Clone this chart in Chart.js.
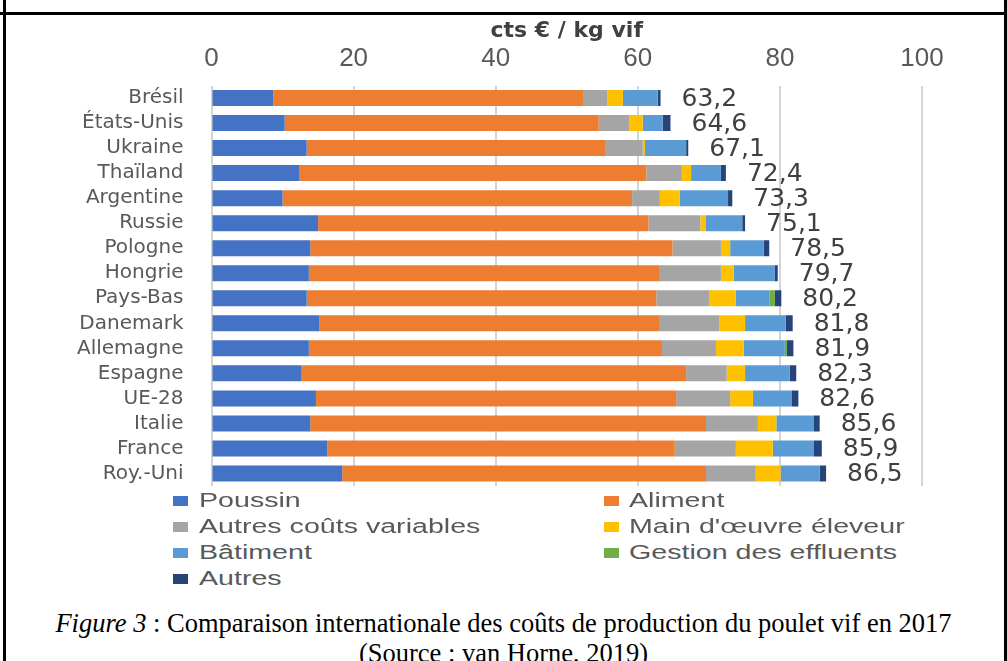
<!DOCTYPE html>
<html>
<head>
<meta charset="utf-8">
<script src="https://cdn.jsdelivr.net/npm/chart.js@4.4.1/dist/chart.umd.min.js"></script>
<style>
  body { margin: 0; background: #fff; width: 1007px; height: 661px; overflow: hidden; position: relative; }
  .line { position: absolute; background: #000; }
  /* the y labels reserve ~40px under the plot area, hence the taller box */
  #chartBox { position: absolute; left: 0; top: 14px; width: 1007px; height: 512px; }
  .sq { position: absolute; width: 15px; height: 10px; }
  .leg { position: absolute; font: 20px "Liberation Sans", Arial, sans-serif; color: #595959; white-space: nowrap;
         transform: scaleX(1.43); transform-origin: 0 50%; line-height: 24px; }
  .caption { position: absolute; left: 0; width: 1007px; text-align: center; font: 26.5px "Liberation Serif", "Times New Roman", serif; color: #000; white-space: nowrap; }
</style>
</head>
<body>
<div class="line" style="left:0;top:12px;width:1007px;height:3px"></div>
<div class="line" style="left:3px;top:0;width:3px;height:661px"></div>
<div class="line" style="left:1004px;top:0;width:3px;height:661px"></div>
<div id="chartBox"><canvas id="costChart"></canvas></div>
<div id="legend"></div>
<div class="caption" style="top:608px"><i>Figure 3</i> : Comparaison internationale des coûts de production du poulet vif en 2017</div>
<div class="caption" style="top:638px">(Source : van Horne, 2019)</div>

<script>
// cts € / kg vif
const categories = ["Brésil", "États-Unis", "Ukraine", "Thaïland", "Argentine", "Russie", "Pologne", "Hongrie",
                    "Pays-Bas", "Danemark", "Allemagne", "Espagne", "UE-28", "Italie", "France", "Roy.-Uni"];
const poussin         = [8.7, 10.3, 13.4, 12.4, 10.0, 15.0, 13.9, 13.7, 13.4, 15.2, 13.7, 12.6, 14.7, 13.9, 16.3, 18.4];
const aliment         = [43.7, 44.2, 42.1, 48.8, 49.2, 46.5, 51.0, 49.4, 49.2, 47.9, 49.7, 54.2, 50.7, 55.7, 48.9, 51.2];
const autresVariables = [3.3, 4.3, 5.2, 5.0, 3.9, 7.3, 6.8, 8.6, 7.5, 8.4, 7.6, 5.7, 7.6, 7.3, 8.6, 7.0];
const mainOeuvre      = [2.2, 1.9, 0.3, 1.3, 2.8, 0.8, 1.3, 1.8, 3.7, 3.6, 3.9, 2.6, 3.2, 2.6, 5.2, 3.5];
const batiment        = [4.9, 2.8, 5.8, 4.2, 6.8, 5.1, 4.7, 5.8, 4.7, 5.7, 5.8, 6.3, 5.5, 5.3, 5.8, 5.5];
const effluents       = [0, 0, 0, 0, 0, 0, 0, 0, 0.8, 0, 0.3, 0, 0, 0, 0, 0];
const autres          = [0.4, 1.1, 0.3, 0.7, 0.6, 0.4, 0.8, 0.4, 0.9, 1.0, 0.9, 0.9, 0.9, 0.8, 1.1, 0.9];
const totals          = [63.2, 64.6, 67.1, 72.4, 73.3, 75.1, 78.5, 79.7, 80.2, 81.8, 81.9, 82.3, 82.6, 85.6, 85.9, 86.5];
const xTicks = [0, 20, 40, 60, 80, 100];

// Total written to the right of each bar
const totalLabels = {
    id: 'totalLabels',
    afterDatasetsDraw(chart) {
        const ctx = chart.ctx;
        const xs = chart.scales.x, ys = chart.scales.y;
        ctx.save();
        ctx.font = '25px "DejaVu Sans", sans-serif';
        ctx.fillStyle = '#404040';
        ctx.textAlign = 'left';
        ctx.textBaseline = 'middle';
        totals.forEach((t, i) => {
            ctx.fillText(t.toFixed(1).replace('.', ','), xs.getPixelForValue(t) + 21, ys.getPixelForValue(i) + 1);
        });
        ctx.restore();
    }
};

const ctx = document.getElementById("costChart").getContext("2d");
const chart = new Chart(ctx, {
    type: 'bar',
    data: {
        labels: categories,
        datasets: [
            { label: 'Poussin', data: poussin, backgroundColor: '#4472C4' },
            { label: 'Aliment', data: aliment, backgroundColor: '#ED7D31' },
            { label: 'Autres coûts variables', data: autresVariables, backgroundColor: '#A5A5A5' },
            { label: "Main d'œuvre éleveur", data: mainOeuvre, backgroundColor: '#FFC000' },
            { label: 'Bâtiment', data: batiment, backgroundColor: '#5B9BD5' },
            { label: 'Gestion des effluents', data: effluents, backgroundColor: '#70AD47' },
            { label: 'Autres', data: autres, backgroundColor: '#264478' }
        ]
    },
    options: {
        indexAxis: 'y',
        responsive: true,
        maintainAspectRatio: false,
        animation: false,
        devicePixelRatio: 1,
        barPercentage: 0.8,
        categoryPercentage: 0.8,
        layout: { padding: { left: 0, right: 85, top: 0, bottom: 2.5 } },
        scales: {
            x: {
                position: 'top',
                stacked: true,
                min: 0,
                max: 100,
                afterBuildTicks: (scale) => { scale.ticks = xTicks.map(v => ({ value: v })); },
                afterFit: (scale) => { scale.height = 71.5; },
                grid: { color: '#d4d4d4', lineWidth: 2, drawTicks: false },
                border: { display: false },
                ticks: {
                    padding: 11,
                    color: '#595959',
                    font: { family: '"Liberation Sans", Arial, sans-serif', size: 26 }
                },
                title: {
                    display: true,
                    text: 'cts € / kg vif',
                    color: '#404040',
                    font: { family: '"DejaVu Sans", sans-serif', size: 22, weight: 'bold' },
                    padding: { top: 4, bottom: 0 }
                }
            },
            y: {
                stacked: true,
                afterFit: (scale) => { scale.width = 211.5; },
                grid: { display: false, drawTicks: false },
                border: { display: false },
                ticks: {
                    autoSkip: false,
                    padding: 28,
                    color: '#595959',
                    font: { family: '"DejaVu Sans", sans-serif', size: 20 }
                }
            }
        },
        plugins: {
            legend: { display: false },
            tooltip: { enabled: false }
        }
    },
    plugins: [totalLabels]
});

// Legend in two columns, built from the datasets
const legendBox = document.getElementById("legend");
chart.data.datasets.forEach((ds, i) => {
    const col = i % 2, row = Math.floor(i / 2);
    const cy = 500 + row * 26;
    const sq = document.createElement("div");
    sq.className = "sq";
    sq.style.left = (col ? 604 : 173) + "px";
    sq.style.top = (cy - 4) + "px";
    sq.style.background = ds.backgroundColor;
    legendBox.appendChild(sq);
    const t = document.createElement("div");
    t.className = "leg";
    t.textContent = ds.label;
    t.style.left = (col ? 629 : 199) + "px";
    t.style.top = (cy - 12) + "px";
    legendBox.appendChild(t);
});
</script>
</body>
</html>
